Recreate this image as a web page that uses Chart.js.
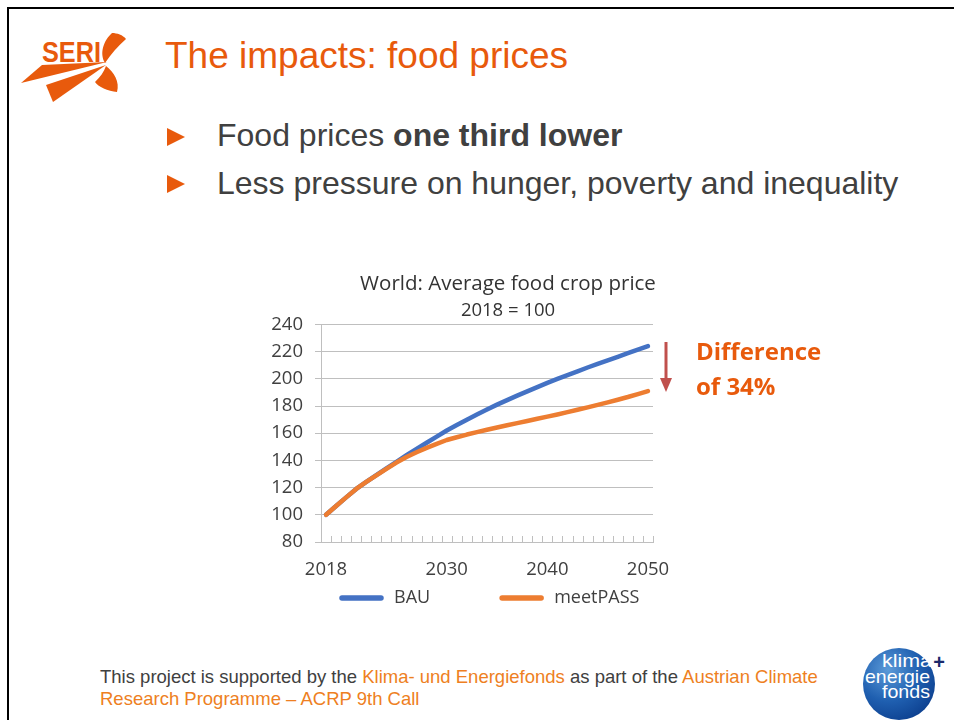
<!DOCTYPE html>
<html>
<head>
<meta charset="utf-8">
<title>The impacts: food prices</title>
<script src="https://cdn.jsdelivr.net/npm/chart.js@4.4.1/dist/chart.umd.min.js"></script>
<style>
  html, body { margin: 0; padding: 0; background: #fff; }
  body { width: 954px; height: 720px; position: relative; overflow: hidden; font-family: "Liberation Sans", Arial, sans-serif; }
  .frame { position: absolute; left: 7px; top: 7px; width: 960px; height: 720px; border-top: 2.5px solid #000; border-left: 2.5px solid #000; }
  .logo { position: absolute; left: 0; top: 0; }
  .title { position: absolute; left: 165px; top: 37px; font-size: 37px; line-height: 37px; color: #e85a0c; white-space: nowrap; }
  .bullet { position: absolute; left: 217px; font-size: 32px; line-height: 32px; color: #404040; white-space: nowrap; }
  .bullet b { font-weight: bold; }
  .marker { position: absolute; left: 166px; }
  .chart-box { position: absolute; left: 250px; top: 262px; width: 516px; height: 355px; }
  .note { position: absolute; left: 696px; font-family: "Open Sans", sans-serif; font-weight: bold; font-size: 24px; line-height: 24px; color: #e85a0c; white-space: nowrap; }
  .arrow { position: absolute; left: 655px; top: 335px; }
  .footer { position: absolute; left: 100px; top: 666px; font-size: 18.5px; line-height: 22px; color: #404040; white-space: nowrap; }
  .footer span { color: #ee7f22; }
  .fund { position: absolute; left: 850px; top: 630px; }
</style>
</head>
<body>
<div class="frame"></div>

<svg class="logo" width="140" height="110" viewBox="0 0 140 110">
  <text x="42" y="62" font-family="Liberation Sans, Arial, sans-serif" font-weight="bold" font-size="30" fill="#e85a0c" textLength="59" lengthAdjust="spacingAndGlyphs">SERI</text>
  <polygon points="21,83 42,65 107,62" fill="#e85a0c"/>
  <polygon points="46,85 53,102 106,65" fill="#e85a0c"/>
  <path d="M105,63 C99,53 104,40 112,33 C117,33 123,35 126,39 C118,46 111,54 105,63 Z" fill="#e85a0c"/>
  <path d="M106,66 C114,72 120,82 117,92 C108,91 98,87 95,82 C100,77 104,72 106,66 Z" fill="#e85a0c"/>
</svg>

<div class="title">The impacts: food prices</div>

<svg class="marker" style="top:128px" width="20" height="20" viewBox="0 0 20 20"><polygon points="1,0 19,9 1,18" fill="#e85a0c"/></svg>
<div class="bullet" style="top:119px">Food prices <b>one third lower</b></div>
<svg class="marker" style="top:175px" width="20" height="20" viewBox="0 0 20 20"><polygon points="1,0 19,9 1,18" fill="#e85a0c"/></svg>
<div class="bullet" style="top:167px">Less pressure on hunger, poverty and inequality</div>

<div class="chart-box"><canvas id="chart" width="516" height="355"></canvas></div>

<svg class="arrow" width="24" height="62" viewBox="0 0 24 62">
  <line x1="11" y1="7" x2="11" y2="45" stroke="#c0504d" stroke-width="3"/>
  <polygon points="5,43 17,43 11,57" fill="#c0504d"/>
</svg>
<div class="note" style="top:339px">Difference</div>
<div class="note" style="top:374px">of 34%</div>

<div class="footer">This project is supported by the <span>Klima- und Energiefonds</span> as part of the <span>Austrian Climate</span><br><span>Research Programme – ACRP 9th Call</span></div>

<svg class="fund" width="104" height="90" viewBox="850 630 104 90">
  <defs>
    <radialGradient id="ball" cx="0.35" cy="0.3" r="0.8">
      <stop offset="0" stop-color="#5b9ad8"/>
      <stop offset="0.55" stop-color="#1f5fb0"/>
      <stop offset="1" stop-color="#0b3d8c"/>
    </radialGradient>
  </defs>
  <circle cx="899" cy="684" r="36" fill="url(#ball)"/>
  <g font-family="Liberation Sans, Arial, sans-serif" font-size="19" fill="#fff">
    <text x="882" y="667" textLength="50" lengthAdjust="spacingAndGlyphs">klima</text>
    <text x="865" y="683" textLength="65" lengthAdjust="spacingAndGlyphs">energie</text>
    <text x="882" y="698" textLength="48" lengthAdjust="spacingAndGlyphs">fonds</text>
  </g>
  <text x="939" y="669" font-family="Liberation Sans, Arial, sans-serif" font-size="20" font-weight="bold" fill="#1b2a6b" text-anchor="middle">+</text>
</svg>

<script>
  // yearly series, 2018 = 100
  const years = ['2018', '2019', '2020', '2021', '2022', '2023', '2024', '2025', '2026', '2027', '2028',
    '2029', '2030', '2031', '2032', '2033', '2034', '2035', '2036', '2037', '2038', '2039', '2040',
    '2041', '2042', '2043', '2044', '2045', '2046', '2047', '2048', '2049', '2050'];
  const labelledYears = ['2018', '2030', '2040', '2050'];

  const bauValues = [100, 106.5, 112.8, 119, 124.2, 129.2, 134.1, 139, 143.8, 148.4, 153,
    157.5, 162, 166, 169.9, 173.7, 177.4, 181, 184.3, 187.6, 190.8, 193.9, 197,
    199.9, 202.7, 205.5, 208.3, 211, 213.6, 216.2, 218.8, 221.4, 224];
  const meetPassValues = [100, 106.5, 112.8, 119, 124.2, 129, 133.8, 138.4, 142.5, 146, 149.2,
    152.2, 155, 157, 159, 160.8, 162.5, 164.2, 165.8, 167.4, 169, 170.6, 172.2,
    173.8, 175.5, 177.2, 179, 180.8, 182.7, 184.6, 186.6, 188.8, 191];

  const gridGrey = '#bfbfbf';
  const textGrey = '#404040';
  const fontFamily = '"Open Sans", sans-serif';

  // title and subtitle are centred on the whole canvas, not on the padded area
  const centerTitles = {
    id: 'centerTitles',
    afterLayout(chart) {
      chart.boxes.forEach(function (box) {
        if (box.position === 'top' && !box.axis) {
          box.left = 0;
          box.right = chart.width;
          box.width = chart.width;
        }
      });
    }
  };

  // small upward tick marks on the category axis, one per category boundary
  const categoryTicks = {
    id: 'categoryTicks',
    beforeDatasetsDraw(chart) {
      const scale = chart.scales.x;
      const ctx = chart.ctx;
      const step = scale.getPixelForValue(1) - scale.getPixelForValue(0);
      const start = scale.getPixelForValue(0) - step / 2;
      const y = chart.chartArea.bottom;
      ctx.save();
      ctx.strokeStyle = gridGrey;
      ctx.lineWidth = 1;
      ctx.beginPath();
      for (let k = 0; k <= years.length; k++) {
        const x = Math.round(start + k * step) + 0.5;
        ctx.moveTo(x, y);
        ctx.lineTo(x, y - 6);
      }
      ctx.stroke();
      ctx.restore();
    }
  };

  // legend drawn as short thick line samples under the x axis
  const lineLegend = {
    id: 'lineLegend',
    afterDraw(chart, args, opts) {
      const ctx = chart.ctx;
      const y = chart.height - opts.bottom;
      let x = chart.chartArea.left + opts.inset;
      ctx.save();
      ctx.font = opts.fontSize + 'px ' + fontFamily;
      ctx.textBaseline = 'middle';
      chart.data.datasets.forEach(function (ds) {
        ctx.strokeStyle = ds.borderColor;
        ctx.lineWidth = 5.5;
        ctx.lineCap = 'round';
        ctx.beginPath();
        ctx.moveTo(x + 3, y);
        ctx.lineTo(x + opts.lineLength - 3, y);
        ctx.stroke();
        x += opts.lineLength + opts.textGap;
        ctx.fillStyle = textGrey;
        ctx.fillText(ds.label, x, y);
        x += ctx.measureText(ds.label).width + opts.itemGap;
      });
      ctx.restore();
    }
  };

  new Chart(document.getElementById('chart'), {
    type: 'line',
    data: {
      labels: years,
      datasets: [
        {
          label: 'BAU',
          data: bauValues,
          borderColor: '#4472c4',
          backgroundColor: '#4472c4',
          borderWidth: 4.5,
          pointRadius: 0,
          tension: 0,
          borderCapStyle: 'round',
          borderJoinStyle: 'round',
          order: 1
        },
        {
          label: 'meetPASS',
          data: meetPassValues,
          borderColor: '#ed7d31',
          backgroundColor: '#ed7d31',
          borderWidth: 4.5,
          pointRadius: 0,
          tension: 0,
          borderCapStyle: 'round',
          borderJoinStyle: 'round',
          order: 0
        }
      ]
    },
    options: {
      responsive: false,
      animation: false,
      layout: { padding: { left: 0, right: 113, top: 0, bottom: 38 } },
      scales: {
        x: {
          type: 'category',
          offset: true,
          grid: { display: false, drawTicks: false },
          border: { display: true, color: gridGrey, width: 1 },
          ticks: {
            autoSkip: false,
            maxRotation: 0,
            padding: 17,
            color: textGrey,
            font: { family: fontFamily, size: 18.5 },
            callback: function (value) {
              const year = this.getLabelForValue(value);
              return labelledYears.indexOf(year) >= 0 ? year : '';
            }
          },
          afterFit: function (scale) { scale.height = 37; }
        },
        y: {
          min: 80,
          max: 240,
          grid: { color: gridGrey, lineWidth: 1, tickLength: 6 },
          border: { display: true, color: gridGrey, width: 1 },
          ticks: {
            stepSize: 20,
            padding: 12,
            color: textGrey,
            font: { family: fontFamily, size: 18.5 }
          },
          afterFit: function (scale) { scale.width = 71; }
        }
      },
      plugins: {
        legend: { display: false },
        tooltip: { enabled: false },
        title: {
          display: true,
          text: 'World: Average food crop price',
          color: '#333333',
          font: { family: fontFamily, size: 20.5, weight: 'normal' },
          padding: { top: 10, bottom: 2 }
        },
        subtitle: {
          display: true,
          text: '2018 = 100',
          color: '#333333',
          font: { family: fontFamily, size: 18.5, weight: 'normal' },
          padding: { top: 1, bottom: 2.6 }
        },
        lineLegend: { bottom: 19, inset: 18, lineLength: 45, textGap: 10, itemGap: 69, fontSize: 18 }
      }
    },
    plugins: [centerTitles, categoryTicks, lineLegend]
  });
</script>
</body>
</html>
